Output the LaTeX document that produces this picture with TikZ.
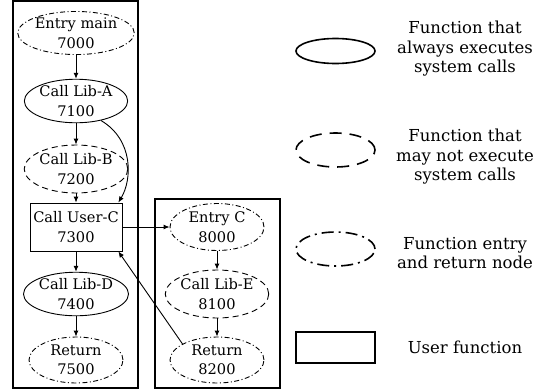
\documentclass[tikz,border=0pt]{standalone}
\usepackage{fontspec}
\setmainfont{DejaVu Serif}
\usetikzlibrary{shapes.geometric,arrows.meta}

\begin{document}
\begin{tikzpicture}[x=1pt, y=-1pt, line width=0.9pt,
    font=\fontsize{14.6}{19.5}\selectfont,
    fn/.style={ellipse, draw, inner sep=0pt, align=center,
      minimum width=94pt, minimum height=44pt},
    always/.style={fn},
    maybe/.style={fn, dash pattern=on 6pt off 4pt},
    entryret/.style={fn, dash pattern=on 5pt off 2.5pt on 1pt off 2.5pt},
    userfn/.style={rectangle, draw, inner sep=0pt, align=center,
      minimum width=92pt, minimum height=48pt},
    flow/.style={-{Latex[length=6pt,width=5pt]}},
    cluster/.style={draw, line width=1.1pt},
    legend/.style={line width=1.6pt},
    note/.style={align=center, font=\fontsize{16.5}{19.5}\selectfont}]
        \useasboundingbox (0,0) rectangle (540,391);

        % clusters
        \draw[cluster] (13,1) rectangle (138,388);
        \draw[cluster] (155,199) rectangle (280,388);

        % main
        \node[entryret, minimum width=102pt, minimum height=41pt]
          (main) at (76,33) {Entry main\\7000};
        \node[always, minimum height=42pt] (libA) at (76,101) {Call Lib-A\\7100};
        \node[maybe, minimum height=48pt] (libB) at (76,169) {Call Lib-B\\7200};
        \node[userfn] (userC) at (76,227) {Call User-C\\7300};
        \node[always, minimum height=43pt] (libD) at (76,294) {Call Lib-D\\7400};
        \node[entryret, minimum height=46pt] (ret7500) at (76,360) {Return\\7500};

        % user C
        \node[entryret, minimum height=47pt] (entryC) at (217,227) {Entry C\\8000};
        \node[maybe, minimum height=48pt] (libE) at (217,294) {Call Lib-E\\8100};
        \node[entryret, minimum height=46pt] (ret8200) at (217,360) {Return\\8200};

        \draw[flow] (main) -- (libA);
        \draw[flow] (libA) -- (libB);
        \draw[flow] (libB) -- (userC);
        \draw[flow] (libA.-38) .. controls (134,140) and (132,180) .. (userC.30);
        \draw[flow] (userC.east) -- (entryC.west);
        \draw[flow] (userC) -- (libD);
        \draw[flow] (libD) -- (ret7500);
        \draw[flow] (entryC) -- (libE);
        \draw[flow] (libE) -- (ret8200);
        \draw[flow] (ret8200.155) -- (userC.-30);

        % legend
        \node[always, legend, minimum width=79pt, minimum height=25pt]
          (keyA) at (335.5,51) {};
        \node[maybe, legend, minimum width=79pt, minimum height=34pt,
          dash pattern=on 12pt off 8pt] (keyB) at (335.5,150) {};
        \node[entryret, legend, minimum width=79pt, minimum height=34pt,
          dash pattern=on 12pt off 5pt on 2pt off 5pt] (keyC) at (335.5,249) {};
        \node[userfn, legend, minimum width=79pt, minimum height=31pt]
          (keyD) at (335.5,347.5) {};

        \node[note] (noteA) at (465,49) {Function that\\always executes\\system calls};
        \node[note] (noteB) at (465,157) {Function that\\may not execute\\system calls};
        \node[note] (noteC) at (465,253) {Function entry\\and return node};
        \node[note] (noteD) at (465,347) {User function};
      \end{tikzpicture}
\end{document}
